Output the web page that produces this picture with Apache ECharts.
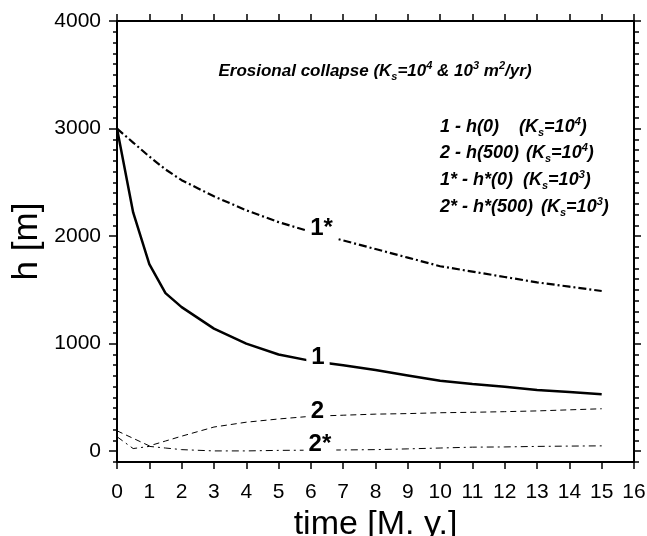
<!DOCTYPE html>
<html>
<head>
<meta charset="utf-8">
<script src="https://cdn.jsdelivr.net/npm/echarts@6.0.0/dist/echarts.min.js"></script>
<style>
  html, body { margin: 0; padding: 0; background: #fff; }
  #chart { width: 647px; height: 536px; }
</style>
</head>
<body>
<div id="chart"></div>
<script>
// time axis (M. y.)
const timeMy = [0, 0.5, 1, 1.5, 2, 3, 4, 5, 6, 7, 8, 9, 10, 11, 12, 13, 14, 15];
// 1 - h(0), Ks=10^4
const h0Ks4 = [3000, 2220, 1740, 1470, 1340, 1140, 1000, 900, 840, 800, 755, 705, 655, 625, 600, 570, 550, 530];
// 2 - h(500), Ks=10^4
const h500Ks4 = [190, 120, 50, 95, 140, 225, 270, 300, 325, 335, 345, 350, 358, 362, 368, 375, 385, 395];
// 1* - h*(0), Ks=10^3
const hs0Ks3 = [3000, 2870, 2740, 2620, 2520, 2370, 2240, 2130, 2040, 1960, 1880, 1800, 1720, 1670, 1620, 1570, 1530, 1490];
// 2* - h*(500), Ks=10^3
const hs500Ks3 = [135, 25, 45, 30, 15, 3, 3, 8, 10, 12, 15, 22, 30, 38, 40, 45, 48, 50];

// curve labels written on the lines
const curveLabelNames = ['1*', '1', '2', '2*'];
const curveLabelTimes = [6.33, 6.22, 6.2, 6.28];
const curveLabelHeights = [2074, 870, 370, 68];

// legend lines
const legendLeft = ['1 - h(0)', '2 - h(500)', '1* - h*(0)', '2* - h*(500)'];
const legendExp = ['4', '4', '3', '3'];

// axis ticks
const yMajorTicks = [0, 1000, 2000, 3000, 4000];

const FONT = '"Liberation Sans", Arial, Helvetica, sans-serif';

// where the legend lines sit (pixels)
const legendTop = [116, 142, 169, 196];
const legendKsX = [519, 526, 523, 541];

function toPairs(xs, ys) {
  return xs.map((x, i) => [x, ys[i]]);
}

function makeRich(size, lineHeight, firstWidth) {
  const base = { fontWeight: 'bold', fontStyle: 'italic', fontFamily: FONT, fill: '#000' };
  const small = Math.round(size * 0.62);
  return {
    l: { ...base, fontSize: size, lineHeight, width: firstWidth },
    a: { ...base, fontSize: size, lineHeight },
    sub: { ...base, fontSize: small, lineHeight: Math.round(lineHeight / 2), verticalAlign: 'bottom' },
    sup: { ...base, fontSize: small, lineHeight: Math.round(lineHeight / 2), verticalAlign: 'top' },
  };
}

const graphics = [
  {
    type: 'text',
    x: 375,
    y: 60,
    style: {
      text: '{a|Erosional collapse (K}{sub|s}{a|=10}{sup|4}{a| & 10}{sup|3}{a| m}{sup|2}{a|/yr)}',
      rich: makeRich(17, 22),
      align: 'center',
    },
  },
];
legendLeft.forEach((txt, i) => {
  graphics.push({
    type: 'text',
    x: 440,
    y: legendTop[i],
    style: {
      text: `{l|${txt}}{a|(K}{sub|s}{a|=10}{sup|${legendExp[i]}}{a|)}`,
      rich: makeRich(18, 22, legendKsX[i] - 440),
    },
  });
});

const chart = echarts.init(document.getElementById('chart'), null, { renderer: 'canvas' });

const axisLineStyle = { show: true, onZero: false, lineStyle: { color: '#000', width: 2 } };
const tickStyle = { color: '#000', width: 1.5 };

const option = {
  backgroundColor: '#fff',
  animation: false,
  grid: { left: 117, right: 13, top: 21, bottom: 74, containLabel: false, outerBoundsMode: 'none' },
  xAxis: [
    {
      type: 'value', position: 'bottom', min: 0, max: 16, interval: 1,
      axisLine: axisLineStyle,
      axisTick: { show: true, inside: false, length: 7, lineStyle: tickStyle },
      axisLabel: { color: '#000', fontSize: 21, fontFamily: FONT, margin: 20 },
      splitLine: { show: false },
      name: 'time [M. y.]', nameLocation: 'middle', nameGap: 39,
      nameTextStyle: { color: '#000', fontSize: 34, fontFamily: FONT },
    },
    {
      type: 'value', position: 'top', min: 0, max: 16, interval: 1,
      axisLine: axisLineStyle,
      axisTick: { show: true, inside: false, length: 7, lineStyle: tickStyle },
      axisLabel: { show: false },
      splitLine: { show: false },
    },
  ],
  yAxis: [
    {
      // left axis, minor ticks every 100
      type: 'value', position: 'left', min: -100, max: 4000, interval: 100,
      axisLine: axisLineStyle,
      axisTick: { show: true, inside: false, length: 4, lineStyle: tickStyle },
      axisLabel: { show: false },
      splitLine: { show: false },
      name: 'h [m]', nameLocation: 'middle', nameGap: 72, nameRotate: 90,
      nameTextStyle: { color: '#000', fontSize: 35, fontFamily: FONT },
    },
    {
      // left axis, major ticks and labels
      type: 'value', position: 'left', min: -100, max: 4000,
      axisLine: { show: false, onZero: false },
      axisTick: { show: true, inside: false, length: 8, customValues: yMajorTicks, lineStyle: tickStyle },
      axisLabel: {
        color: '#000', fontSize: 21, fontFamily: FONT, margin: 16,
        customValues: yMajorTicks, formatter: (v) => String(v),
      },
      splitLine: { show: false },
    },
    {
      // right frame, outward ticks
      type: 'value', position: 'right', min: -100, max: 4000, interval: 100,
      axisLine: axisLineStyle,
      axisTick: { show: true, inside: false, length: 5, lineStyle: tickStyle },
      axisLabel: { show: false },
      splitLine: { show: false },
    },
    {
      type: 'value', position: 'right', min: -100, max: 4000,
      axisLine: { show: false, onZero: false },
      axisTick: { show: true, inside: false, length: 7, customValues: yMajorTicks, lineStyle: tickStyle },
      axisLabel: { show: false },
      splitLine: { show: false },
    },
  ],
  graphic: graphics,
  series: [
    {
      name: '1 - h(0)', type: 'line', data: toPairs(timeMy, h0Ks4),
      showSymbol: false,
      lineStyle: { color: '#000', width: 2.5, type: 'solid' },
    },
    {
      name: '2 - h(500)', type: 'line', data: toPairs(timeMy, h500Ks4),
      showSymbol: false,
      lineStyle: { color: '#000', width: 1, type: [6, 4] },
    },
    {
      name: '1* - h*(0)', type: 'line', data: toPairs(timeMy, hs0Ks3),
      showSymbol: false,
      lineStyle: { color: '#000', width: 2.2, type: [8, 3, 2, 3] },
    },
    {
      name: '2* - h*(500)', type: 'line', data: toPairs(timeMy, hs500Ks3),
      showSymbol: false,
      lineStyle: { color: '#000', width: 1, type: [7, 4, 2, 4] },
    },
    {
      // numbers written on the curves, white box hides the line under them
      type: 'scatter', z: 10, symbolSize: 0,
      itemStyle: { opacity: 1 },
      data: curveLabelTimes.map((t, i) => [t, curveLabelHeights[i], curveLabelNames[i]]),
      label: {
        show: true, position: 'inside', opacity: 1,
        formatter: (p) => p.value[2],
        color: '#000', fontSize: 24, fontWeight: 'bold', fontFamily: FONT,
        backgroundColor: '#fff', padding: [0, 5, 0, 5],
      },
    },
  ],
};

chart.setOption(option);
</script>
</body>
</html>
